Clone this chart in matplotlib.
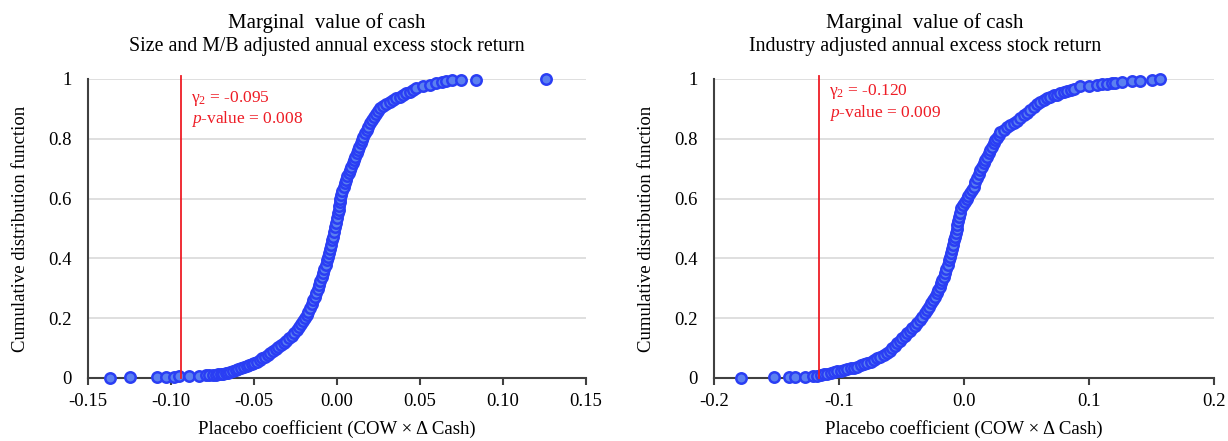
import numpy as np
import matplotlib
matplotlib.use("Agg")
import matplotlib.pyplot as plt

plt.rcParams['font.family'] = ['Liberation Serif', 'DejaVu Serif']
plt.rcParams['mathtext.fontset'] = 'custom'
plt.rcParams['mathtext.rm'] = 'Liberation Serif'
plt.rcParams['mathtext.it'] = 'Liberation Serif:italic'
plt.rcParams['axes.unicode_minus'] = False

# placebo coefficients (x) and their cumulative share (y)
size_mb_x = [-0.1366, -0.1246, -0.1086, -0.1030, -0.0980, -0.0950, -0.0890, -0.0830, -0.0790, -0.0770, -0.0750, -0.0730,
             -0.0715, -0.0700, -0.0685, -0.0670, -0.0655, -0.0642, -0.0625, -0.0610, -0.0595, -0.0580, -0.0562,
             -0.0545, -0.0528, -0.0512, -0.0497, -0.0482, -0.0466, -0.0450, -0.0434, -0.0418, -0.0402,
             -0.0386, -0.0370, -0.0354, -0.0338, -0.0322, -0.0306, -0.0290, -0.0274, -0.0258, -0.0242,
             -0.0230, -0.0218, -0.0206, -0.0194, -0.0182, -0.0172, -0.0162, -0.0152, -0.0142, -0.0132,
             -0.0124, -0.0116, -0.0108, -0.0100, -0.0092, -0.0084, -0.0076, -0.0068, -0.0060, -0.0052,
             -0.0046, -0.0040, -0.0034, -0.0028, -0.0022, -0.0016, -0.0010, -0.0004, 0.0002, 0.0008,
             0.0011, 0.0014, 0.0016, 0.0018, 0.0026, 0.0033, 0.0041, 0.0048, 0.0056, 0.0063, 0.0071, 0.0078,
             0.0086, 0.0094, 0.0102, 0.0110, 0.0118, 0.0126, 0.0134, 0.0142, 0.0150, 0.0158,
             0.0168, 0.0178, 0.0188, 0.0198, 0.0208, 0.0220, 0.0233, 0.0245, 0.0258,
             0.0278, 0.0298, 0.0318, 0.0338, 0.0358, 0.0378, 0.0398, 0.0418, 0.0438, 0.0458, 0.0478,
             0.0518, 0.0558, 0.0598, 0.0634, 0.0658, 0.0694, 0.0748, 0.0838, 0.1258]
size_mb_y = [0.001, 0.002, 0.003, 0.004, 0.005, 0.006, 0.007, 0.008, 0.009, 0.010, 0.010, 0.011,
             0.012, 0.013, 0.015, 0.016, 0.018, 0.021, 0.024, 0.027, 0.030, 0.033, 0.038,
             0.041, 0.044, 0.048, 0.051, 0.055, 0.060, 0.066, 0.071, 0.077, 0.083,
             0.089, 0.096, 0.103, 0.109, 0.116, 0.124, 0.133, 0.142, 0.151, 0.160,
             0.170, 0.180, 0.190, 0.200, 0.210, 0.222, 0.235, 0.247, 0.260, 0.272,
             0.285, 0.299, 0.312, 0.326, 0.339, 0.352, 0.366, 0.379, 0.393, 0.406,
             0.419, 0.433, 0.446, 0.460, 0.473, 0.489, 0.504, 0.520, 0.535, 0.551,
             0.563, 0.576, 0.588, 0.600, 0.613, 0.626, 0.638, 0.651, 0.662, 0.674, 0.685, 0.696,
             0.707, 0.718, 0.729, 0.740, 0.751, 0.762, 0.773, 0.785, 0.796, 0.807,
             0.818, 0.830, 0.841, 0.852, 0.863, 0.873, 0.883, 0.892, 0.902,
             0.909, 0.916, 0.923, 0.930, 0.936, 0.941, 0.947, 0.952, 0.958, 0.964, 0.969,
             0.977, 0.980, 0.986, 0.991, 0.993, 0.995, 0.996, 0.998, 0.999]

industry_x = [-0.1782, -0.1522, -0.1402, -0.1350, -0.1270, -0.1206,
              -0.1174, -0.1147, -0.1120, -0.1094, -0.1067, -0.1040, -0.1014, -0.0987, -0.0960,
              -0.0933, -0.0907, -0.0880, -0.0854, -0.0827, -0.0800, -0.0774, -0.0747,
              -0.0721, -0.0695, -0.0669, -0.0642, -0.0616, -0.0596, -0.0576, -0.0556, -0.0536,
              -0.0516, -0.0496, -0.0476, -0.0456, -0.0436, -0.0416, -0.0396, -0.0376,
              -0.0356, -0.0336, -0.0316, -0.0296, -0.0280, -0.0264, -0.0248, -0.0232, -0.0216,
              -0.0205, -0.0195, -0.0184, -0.0174, -0.0163, -0.0152, -0.0142, -0.0131, -0.0121, -0.0110,
              -0.0102, -0.0094, -0.0086, -0.0078, -0.0070, -0.0065, -0.0059, -0.0054, -0.0048, -0.0043,
              -0.0032, -0.0021, -0.0010, 0.0005, 0.0020, 0.0034, 0.0048, 0.0063, 0.0077,
              0.0090, 0.0104, 0.0117, 0.0130, 0.0144, 0.0157, 0.0171, 0.0184,
              0.0197, 0.0211, 0.0224, 0.0237, 0.0250, 0.0264, 0.0277, 0.0290,
              0.0317, 0.0343, 0.0370, 0.0397, 0.0423, 0.0450, 0.0477, 0.0503, 0.0530,
              0.0557, 0.0583, 0.0610, 0.0637, 0.0663, 0.0690, 0.0717, 0.0743, 0.0770,
              0.0797, 0.0824, 0.0852, 0.0880,
              0.0930, 0.0997, 0.1064, 0.1104, 0.1144, 0.1184, 0.1210, 0.1264, 0.1344, 0.1410, 0.1504, 0.1570]
industry_y = [0.001, 0.002, 0.003, 0.004, 0.005, 0.006,
              0.007, 0.010, 0.012, 0.015, 0.018, 0.020, 0.022, 0.025, 0.027,
              0.030, 0.032, 0.035, 0.038, 0.042, 0.046, 0.050, 0.055,
              0.060, 0.066, 0.071, 0.077, 0.083, 0.091, 0.099, 0.108, 0.116,
              0.124, 0.133, 0.141, 0.149, 0.158, 0.166, 0.175, 0.183,
              0.194, 0.205, 0.216, 0.227, 0.238, 0.250, 0.261, 0.272, 0.283,
              0.294, 0.306, 0.317, 0.328, 0.339, 0.352, 0.366, 0.379, 0.393, 0.406,
              0.419, 0.433, 0.446, 0.460, 0.473, 0.486, 0.499, 0.513, 0.526, 0.539,
              0.553, 0.567, 0.580, 0.590, 0.600, 0.610, 0.620, 0.630, 0.640,
              0.654, 0.668, 0.682, 0.696, 0.707, 0.718, 0.729, 0.740,
              0.751, 0.763, 0.774, 0.785, 0.795, 0.804, 0.814, 0.824,
              0.831, 0.839, 0.846, 0.854, 0.861, 0.869, 0.878, 0.887, 0.896,
              0.905, 0.915, 0.924, 0.930, 0.935, 0.941, 0.945, 0.948, 0.952,
              0.956, 0.960, 0.964, 0.968,
              0.975, 0.978, 0.981, 0.983, 0.984, 0.986, 0.987, 0.990, 0.992, 0.994, 0.996, 0.999]

subtitles = ["Size and M/B adjusted annual excess stock return",
             "Industry adjusted annual excess stock return"]
gammas = ["-0.095", "-0.120"]
pvals = ["0.008", "0.009"]
line_pos = [-0.094, -0.116]
xticks_l = [-0.15, -0.10, -0.05, 0.00, 0.05, 0.10, 0.15]
xticks_r = [-0.2, -0.1, 0.0, 0.1, 0.2]
yticks = [0, 0.2, 0.4, 0.6, 0.8, 1]
ytick_labels = ["0", "0.2", "0.4", "0.6", "0.8", "1"]

W, H = 1228, 441
fig = plt.figure(figsize=(W / 100, H / 100), dpi=100)
ax1 = fig.add_axes([88 / W, 1 - 378 / H, 498 / W, 299 / H])
ax2 = fig.add_axes([714 / W, 1 - 378 / H, 500 / W, 299 / H])

panels = [(ax1, size_mb_x, size_mb_y, xticks_l, "%.2f", 327),
          (ax2, industry_x, industry_y, xticks_r, "%.1f", 925)]

for i, (ax, xs, ys, xt, fmt, tcx) in enumerate(panels):
    ax.set_xlim(xt[0], xt[-1])
    ax.set_ylim(0, 1)
    for s in ["top", "right"]:
        ax.spines[s].set_visible(False)
    for s in ["left", "bottom"]:
        ax.spines[s].set_color("#404040")
        ax.spines[s].set_linewidth(1.5)
    ax.set_yticks(yticks)
    ax.set_yticklabels(ytick_labels)
    ax.set_xticks(xt)
    ax.set_xticklabels([fmt % v for v in xt])
    ax.tick_params(axis="y", length=0, pad=12, labelsize=13.5)
    ax.tick_params(axis="x", length=5, width=1.5, color="#404040", pad=6, labelsize=13.5)
    for g in yticks[1:]:
        ax.axhline(g, color="#d9d9d9", lw=1.2, zorder=0)

    ax.plot(xs, ys, "o", ms=7.5, mfc="#5b80f0", mec="#2a3ef4", mew=1.8, clip_on=False, zorder=3)
    ax.plot([line_pos[i], line_pos[i]], [0, 1.01], color="#ee1c25", lw=1.3, clip_on=False, zorder=4)

    tx = line_pos[i] + (xt[-1] - xt[0]) * 0.02
    ax.text(tx, 0.935 if i == 0 else 0.957, "γ$_2$ = " + gammas[i], color="#ee1c25", fontsize=12.5,
            va="center", ha="left")
    ax.text(tx, 0.865 if i == 0 else 0.886, r"$\mathit{p}$-value = " + pvals[i], color="#ee1c25",
            fontsize=12.5, va="center", ha="left")

    ax.set_ylabel("Cumulative distribution function", fontsize=13.5)
    ax.yaxis.set_label_coords(-0.118, 0.5)
    ax.set_xlabel("Placebo coefficient (COW × Δ Cash)", fontsize=13.5)
    ax.xaxis.set_label_coords(0.5, -0.14)

    fig.text(tcx / W, 1 - 23 / H, "Marginal  value of cash", ha="center", va="center", fontsize=15)
    fig.text(tcx / W, 1 - 47 / H, subtitles[i], ha="center", va="center", fontsize=14.3)

fig.savefig("out.png", dpi=100)
